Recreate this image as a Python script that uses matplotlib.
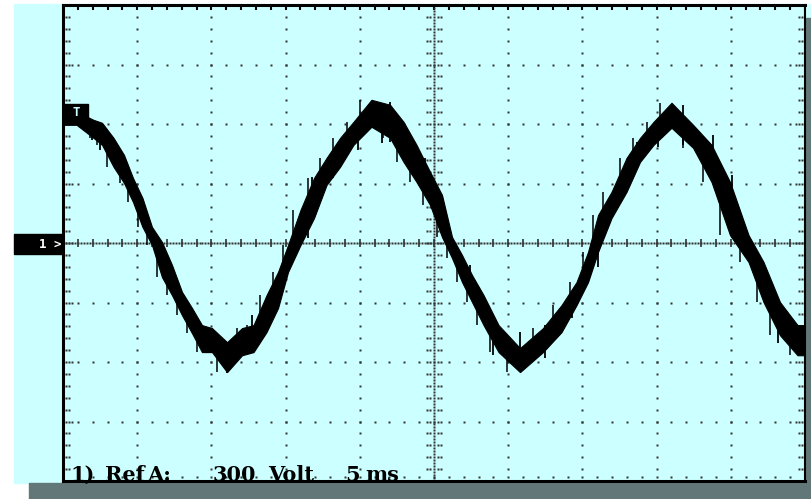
import numpy as np
import matplotlib.pyplot as plt
from matplotlib.patches import Rectangle

# scope screen: 10 x 8 divisions, 5 ms/div, 300 V/div
time_per_div = 5.0
volt_per_div = 300.0
screen_label = ["1)", "Ref", "A:", "300", "Volt", "5", "ms"]

# trace: block starts at seg_t (ms), spans seg_lo..seg_hi (V)
seg_t = [0.0, 1.82, 2.29, 2.97, 3.84, 4.38, 5.05, 5.66, 6.33, 7.01, 7.68, 8.36, 9.03, 9.70,
         10.38, 11.73, 12.40, 13.28, 14.15, 14.83, 15.50, 16.51, 17.32, 18.20, 19.14, 20.01,
         21.56, 22.51, 23.38, 24.26, 25.20, 25.88, 26.55, 27.23, 27.90, 28.78, 29.92, 31.67,
         33.02, 34.17, 35.04, 35.72, 36.39, 37.54, 38.41, 39.36, 40.23, 41.78, 43.13, 44.27,
         45.62, 46.77, 47.64, 48.99]
seg_hi = [662, 621, 606, 530, 444, 328, 227, 81, 5, -111, -247, -328, -414, -429,
          -500, -429, -414, -263, -146, -10, 167, 328, 429, 530, 611, 722,
          697, 611, 495, 359, 242, 30, -61, -162, -263, -414, -530, -429,
          -313, -197, -45, 141, 258, 429, 530, 611, 707, 596, 495, 308,
          40, -96, -298, -414]
seg_lo = [596, 530, 495, 384, 303, 207, 81, -10, -172, -263, -364, -455, -550, -550,
          -651, -566, -550, -449, -328, -146, -10, 126, 293, 384, 495, 586,
          530, 409, 308, 192, 30, -76, -197, -298, -414, -550, -651, -550,
          -449, -313, -197, -45, 126, 258, 409, 495, 581, 480, 308, 40,
          -96, -298, -465, -566]

# thin glitches sticking out of the trace
spike_t = [1.95, 2.49, 11.05, 12.74, 13.41, 16.51, 16.78, 18.20, 19.88, 21.50, 22.04, 22.71,
           24.39, 27.43, 28.98, 30.80, 32.48, 34.30, 35.51, 36.05, 38.68, 40.10, 41.78,
           43.80, 45.08, 48.18]
spike_hi = [611, 581, -500, -364, -328, 192, 333, 429, 586, 646, 712, 611,
            429, -111, -414, -449, -414, -247, -61, 106, 510, 611, 697,
            545, 343, -364]
spike_lo = [520, 470, -657, -465, -465, 25, 192, 328, 470, 505, 510, 444,
            308, -263, -566, -581, -581, -379, -172, -121, 394, 485, 495,
            379, 126, -505]

W, H = 812, 499
CYAN = '#ccffff'
GREY = '#627878'
DOT = '#333333'


def fx(px):
    return px / W


def fy(py):
    return 1 - py / H


fig = plt.figure(figsize=(W / 100, H / 100), dpi=100, facecolor='white')

# screen background, bottom bar and right shadow
fig.patches.append(Rectangle((fx(14), fy(483)), 1 - fx(14), fy(4) - fy(483),
                             transform=fig.transFigure, color=CYAN, zorder=-2))
fig.patches.append(Rectangle((fx(29), 0), 1 - fx(29), fy(483),
                             transform=fig.transFigure, color=GREY, zorder=-1))
fig.patches.append(Rectangle((fx(806), fy(483)), fx(812) - fx(806), fy(18) - fy(483),
                             transform=fig.transFigure, color=GREY, zorder=-1))

ax = fig.add_axes([fx(63), fy(481), fx(805) - fx(63), fy(5) - fy(481)])
ax.set_facecolor(CYAN)
tmax = 10 * time_per_div
vmax = 4 * volt_per_div
ax.set_xlim(0, tmax)
ax.set_ylim(-vmax, vmax)
ax.set_xticks([])
ax.set_yticks([])
for s in ax.spines.values():
    s.set_linewidth(2.2)
    s.set_color('black')
ax.spines['right'].set_linewidth(1.5)

px_t = time_per_div / 74.2
px_v = volt_per_div / 59.4
minor_t = np.arange(0, tmax + 0.01, time_per_div / 5)
minor_v = np.arange(-vmax, vmax + 0.1, volt_per_div / 5)
major_t = np.arange(time_per_div, tmax, time_per_div)
major_v = np.arange(-vmax + volt_per_div, vmax, volt_per_div)
dot = dict(ls='none', marker='s', ms=1.5, mec='none', color=DOT, zorder=1)

# dotted graticule
for t in major_t:
    if t != 25:
        ax.plot(np.full_like(minor_v, t), minor_v, **dot)
for v in major_v:
    if v != 0:
        ax.plot(minor_t, np.full_like(minor_t, v), **dot)

# border marks
for k in (3, 6):
    ax.plot(np.full_like(minor_v, k * px_t), minor_v, **dot)
    ax.plot(np.full_like(minor_v, tmax - k * px_t), minor_v, **dot)
ax.plot(np.full_like(major_v, 9 * px_t), major_v, **dot)
ax.plot(np.full_like(major_v, tmax - 9 * px_t), major_v, **dot)
ax.vlines(minor_t, vmax - 5 * px_v, vmax, color='black', lw=1.5, zorder=1)
ax.plot(minor_t, np.full_like(minor_t, -vmax + 4 * px_v), **dot)

# centre cross
cv = np.arange(-vmax, vmax + 0.1, volt_per_div / 20)
ax.plot(np.full_like(cv, 25), cv, **dot)
for k in (-7, -4, 4, 7):
    ax.plot(np.full_like(minor_v, 25 + k * px_t), minor_v, **dot)
ct = np.arange(0, tmax + 0.01, time_per_div / 25)
ax.plot(ct, np.zeros_like(ct), **dot)
ax.vlines(minor_t, -4 * px_v, 4 * px_v, color=DOT, lw=1.2, zorder=1)

# trace: band through the block centres, plus the stair edges and glitches
edges = np.append(seg_t, tmax)
mid = (edges[:-1] + edges[1:]) / 2
tt = np.concatenate([[0], mid, [tmax]])
hi = np.concatenate([[seg_hi[0]], seg_hi, [seg_hi[-1]]])
lo = np.concatenate([[seg_lo[0]], seg_lo, [seg_lo[-1]]])
ax.fill_between(tt, lo, hi, color='black', lw=0.8, zorder=3)
ax.vlines(spike_t, spike_lo, spike_hi, color='black', lw=1.3, zorder=3)
ax.vlines(seg_t[1:], seg_lo[1:], seg_hi[1:], color='black', lw=1.1, zorder=3)

# trigger marker
fig.patches.append(Rectangle((fx(64), fy(121)), fx(88) - fx(64), fy(104) - fy(121),
                             transform=fig.transFigure, color='black', zorder=4))
fig.text(fx(76), fy(112.5), 'T', color=CYAN, fontsize=9, fontweight='bold',
         family='DejaVu Sans Mono', ha='center', va='center', zorder=5)

# channel 1 ground marker
fig.patches.append(Rectangle((fx(14), fy(254)), fx(63) - fx(14), fy(234) - fy(254),
                             transform=fig.transFigure, color='black', zorder=4))
fig.text(fx(50), fy(244), '1 >', color='white', fontsize=9, fontweight='bold',
         family='DejaVu Sans Mono', ha='center', va='center', zorder=5)

# status line
word_x = [70, 105, 147, 213, 268, 345, 365]
for word, x in zip(screen_label, word_x):
    fig.text(fx(x), fy(481), word, fontsize=15, fontweight='bold',
             family='DejaVu Serif', color='black', ha='left', va='baseline', zorder=5)

fig.savefig('out.png', dpi=100, facecolor='white')
